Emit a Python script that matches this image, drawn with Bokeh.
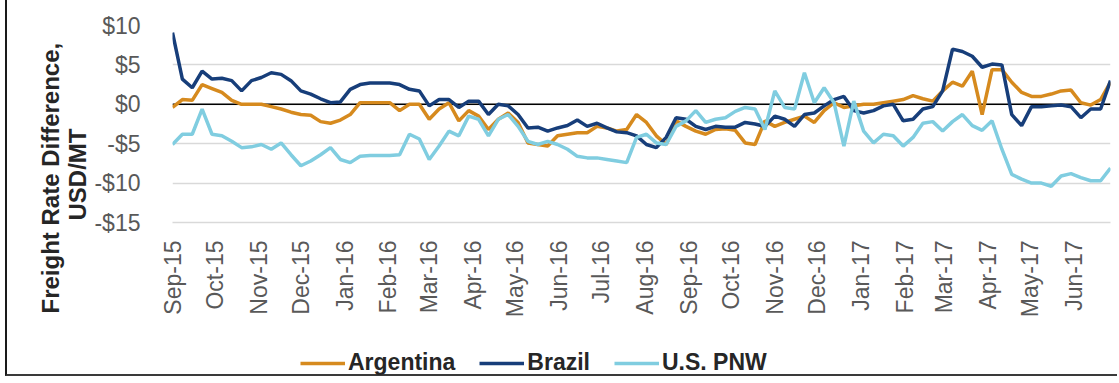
import math
import pandas as pd
from bokeh.plotting import figure
from bokeh.layouts import column
from bokeh.models import (ColumnDataSource, DatetimeTickFormatter, FixedTicker,
                          Legend, LegendItem, Title, Span, Range1d)
from bokeh.embed import file_html
from bokeh.resources import INLINE

# Weekly freight rate differences (USD per metric ton), first week starting Sep 1, 2015
first_week = "2015-09-01"

argentina = [
    -0.4, 0.6, 0.5, 2.5, 2.0, 1.5, 0.5, 0.0, 0.0, 0.0,
    -0.3, -0.6, -1.0, -1.3, -1.4, -2.2, -2.4, -2.0, -1.3, 0.2,
    0.2, 0.2, 0.2, -0.8, 0.0, 0.0, -1.9, -0.6, 0.2, -2.1,
    -0.8, -1.5, -3.2, -1.9, -1.1, -2.3, -4.9, -5.1, -5.3, -4.0,
    -3.8, -3.6, -3.6, -2.8, -3.0, -3.4, -3.2, -1.3, -2.3, -4.0,
    -5.1, -2.1, -2.8, -3.4, -3.8, -3.2, -3.1, -3.3, -4.9, -5.1,
    -2.1, -2.8, -2.3, -1.9, -1.5, -2.3, -0.8, 0.2, -0.4, -0.2,
    0.0, 0.0, 0.2, 0.4, 0.6, 1.1, 0.7, 0.4, 1.7, 2.8,
    2.3, 4.2, -1.3, 4.4, 4.4, 2.8, 1.5, 1.0, 1.0, 1.3,
    1.7, 1.8, 0.2, -0.1, 0.6, 2.8,
]

brazil = [
    9.1, 3.2, 2.1, 4.2, 3.2, 3.3, 3.0, 1.7, 3.0, 3.4,
    4.0, 3.8, 3.0, 1.7, 1.3, 0.7, 0.2, 0.3, 1.9, 2.5,
    2.7, 2.7, 2.7, 2.5, 1.9, 1.7, -0.2, 0.6, 0.6, -0.4,
    0.4, 0.4, -1.3, 0.0, -0.2, -1.3, -3.0, -2.9, -3.4, -3.0,
    -2.7, -2.0, -2.8, -2.4, -3.0, -3.5, -3.6, -4.0, -5.1, -5.5,
    -4.2, -1.7, -1.9, -2.8, -3.2, -2.8, -2.9, -2.9, -2.3, -2.5,
    -2.8, -1.5, -1.9, -2.8, -1.3, -1.1, -0.2, 0.6, 1.0, -0.8,
    -1.1, -0.8, -0.2, 0.0, -2.1, -1.9, -0.6, -0.3, 1.7, 7.0,
    6.7, 6.1, 4.7, 5.1, 5.0, -1.3, -2.7, -0.3, -0.3, -0.2,
    -0.1, -0.3, -1.7, -0.6, -0.6, 3.0,
]

us_pnw = [
    -5.1, -3.8, -3.8, -0.6, -3.8, -4.0, -4.7, -5.5, -5.4, -5.1,
    -5.7, -4.9, -6.4, -7.8, -7.2, -6.4, -5.5, -7.0, -7.4, -6.6,
    -6.5, -6.5, -6.5, -6.4, -3.8, -4.4, -7.0, -5.3, -3.4, -4.0,
    -1.5, -1.9, -4.0, -1.9, -1.3, -2.8, -4.7, -5.1, -4.7, -5.1,
    -5.7, -6.6, -6.8, -6.8, -7.0, -7.2, -7.4, -4.2, -3.8, -4.9,
    -5.1, -2.8, -2.1, -0.8, -2.3, -1.9, -1.7, -0.9, -0.4, -0.6,
    -3.2, 1.7, -0.4, -0.6, 4.0, 0.2, 2.1, 0.2, -5.3, 0.4,
    -3.4, -4.9, -3.8, -4.0, -5.3, -4.2, -2.4, -2.2, -3.4, -2.2,
    -1.3, -2.7, -3.3, -2.1, -5.7, -8.9, -9.5, -10.0, -10.0, -10.4,
    -9.1, -8.8, -9.3, -9.7, -9.7, -8.1,
]

month_ticks = [
    "2015-09-01", "2015-10-01", "2015-11-01", "2015-12-01", "2016-01-01",
    "2016-02-01", "2016-03-01", "2016-04-01", "2016-05-01", "2016-06-01",
    "2016-07-01", "2016-08-01", "2016-09-01", "2016-10-01", "2016-11-01",
    "2016-12-01", "2017-01-01", "2017-02-01", "2017-03-01", "2017-04-01",
    "2017-05-01", "2017-06-01",
]
month_labels = [
    "Sep-15", "Oct-15", "Nov-15", "Dec-15", "Jan-16", "Feb-16", "Mar-16",
    "Apr-16", "May-16", "Jun-16", "Jul-16", "Aug-16", "Sep-16", "Oct-16",
    "Nov-16", "Dec-16", "Jan-17", "Feb-17", "Mar-17", "Apr-17", "May-17",
    "Jun-17",
]
y_ticks = [-15, -10, -5, 0, 5, 10]
y_tick_labels = ["-$15", "-$10", "-$5", "$0", "$5", "$10"]

series_names = ["Argentina", "Brazil", "U.S. PNW"]
series_colors = ["#d68a1e", "#173e7a", "#80cde0"]

weeks = pd.date_range(first_week, periods=len(brazil), freq="7D")
source = ColumnDataSource(dict(week=weeks, argentina=argentina,
                               brazil=brazil, us_pnw=us_pnw))

FONT = "Liberation Sans"
LINE_W = 3.5

p = figure(
    width=1112, height=335,
    x_axis_type="datetime",
    x_range=Range1d(weeks[0].to_pydatetime(), weeks[-1].to_pydatetime()),
    y_range=Range1d(-15, 10),
    output_backend="svg", toolbar_location=None,
    min_border_left=165, min_border_right=9,
    min_border_top=25, min_border_bottom=113,
)
p.styles = {"margin-left": "5px", "border-left": "2px solid #1a1a1a"}
p.outline_line_color = None
p.background_fill_color = "white"
p.border_fill_color = "white"

# horizontal gridlines only
p.xgrid.grid_line_color = None
p.ygrid.grid_line_color = "#d9d9d9"
p.ygrid.grid_line_width = 1.5
p.ygrid.ticker = FixedTicker(ticks=y_ticks)

# zero reference line
p.add_layout(Span(location=0, dimension="width", line_color="black",
                  line_width=1.5, level="underlay"))

for col, color in zip(["argentina", "brazil", "us_pnw"], series_colors):
    p.line("week", col, source=source, line_color=color, line_width=LINE_W)

# x axis: one label per month, rotated
tick_ms = [int(pd.Timestamp(d).timestamp() * 1000) for d in month_ticks]
xa = p.xaxis[0]
xa.ticker = FixedTicker(ticks=tick_ms)
xa.formatter = DatetimeTickFormatter(days="%b-%y", months="%b-%y", years="%b-%y")
xa.major_label_overrides = {t: lab for t, lab in zip(tick_ms, month_labels)}
xa.major_label_orientation = math.pi / 2
xa.major_label_text_font = FONT
xa.major_label_text_font_size = "23px"
xa.major_label_text_color = "#595959"
xa.major_label_standoff = 12
xa.axis_line_color = "#d9d9d9"
xa.axis_line_width = 1.5
xa.major_tick_line_color = None
xa.minor_tick_line_color = None

# y axis: dollar labels
ya = p.yaxis[0]
ya.ticker = FixedTicker(ticks=y_ticks)
ya.major_label_overrides = {t: lab for t, lab in zip(y_ticks, y_tick_labels)}
ya.major_label_text_font = FONT
ya.major_label_text_font_size = "23px"
ya.major_label_text_color = "#595959"
ya.major_label_standoff = 26
ya.axis_line_color = None
ya.major_tick_line_color = None
ya.minor_tick_line_color = None

# vertical axis title in two lines, both centred a little below the plot middle;
# the inner line is added first so it sits next to the tick labels
title_style = dict(align="left", text_font=FONT, text_font_size="24px",
                   text_font_style="bold", text_color="#262626")
p.add_layout(Title(text="USD/MT", offset=2, standoff=2, **title_style), "left")
p.add_layout(Title(text="Freight Rate Difference,", offset=-91, standoff=-6,
                   **title_style), "left")

# legend strip under the chart
lg = figure(width=1112, height=41, x_axis_location=None, y_axis_location=None,
            output_backend="svg", toolbar_location=None,
            min_border=0, min_border_left=0, min_border_right=0,
            min_border_top=0, min_border_bottom=0)
lg.styles = {"margin-left": "5px", "border-left": "2px solid #1a1a1a",
             "border-bottom": "2px solid #3a3a3a"}
lg.outline_line_color = None
lg.grid.visible = False
# legend-only swatches: one undefined point each, so nothing lands in the strip
swatches = [lg.line(x=[float("nan")], y=[float("nan")], line_color=c, line_width=LINE_W)
            for c in series_colors]
legend = Legend(
    items=[LegendItem(label=n, renderers=[r]) for n, r in zip(series_names, swatches)],
    location=(128, 0), orientation="horizontal",
    glyph_width=45, glyph_height=20, label_standoff=3, spacing=24,
    padding=0, margin=0, border_line_color=None, background_fill_alpha=0,
    label_text_font=FONT, label_text_font_size="23px",
    label_text_font_style="bold", label_text_color="#262626",
)
lg.add_layout(legend)

open("out.html", "w").write(file_html(column(p, lg, spacing=0), INLINE))
